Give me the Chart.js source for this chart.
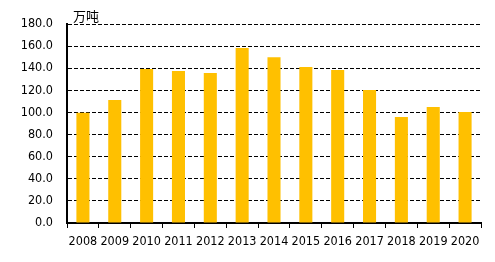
<!DOCTYPE html>
<html lang="zh">
<head>
    <meta charset="UTF-8">
    <title>万吨</title>
    <script src="https://cdn.jsdelivr.net/npm/chart.js"></script>
    <style>
        html, body { margin: 0; padding: 0; background: #fff; }
        #wrap { width: 495px; height: 262px; position: relative; }
    </style>
</head>
<body>
    <div id="wrap"><canvas id="chart"></canvas></div>

    <script>
        // data
        const years = ['2008', '2009', '2010', '2011', '2012', '2013', '2014',
                       '2015', '2016', '2017', '2018', '2019', '2020'];
        const output = [99.8, 111.2, 139.4, 137.4, 135.6, 158.2, 150.0,
                        141.0, 138.3, 120.3, 95.8, 104.9, 100.4];
        const unitLabel = '万吨';

        const tickFont = { family: '"DejaVu Sans Condensed", "DejaVu Sans"', size: 12.5 };

        // unit label above the y axis
        const unitPlugin = {
            id: 'unitLabel',
            afterDraw(chart) {
                const ctx = chart.ctx;
                const area = chart.chartArea;
                ctx.save();
                ctx.fillStyle = '#000';
                ctx.font = '13px "Noto Sans CJK SC"';
                ctx.textBaseline = 'alphabetic';
                ctx.fillText(unitLabel, area.left + 6, area.top - 3);
                ctx.restore();
            }
        };

        new Chart(document.getElementById('chart'), {
            type: 'bar',
            data: {
                labels: years,
                datasets: [{
                    data: output,
                    backgroundColor: '#FFC000',
                    categoryPercentage: 1,
                    barPercentage: 0.41
                }]
            },
            options: {
                responsive: true,
                maintainAspectRatio: false,
                animation: false,
                layout: { padding: { top: 24, right: 14, left: 0, bottom: 0 } },
                plugins: { legend: { display: false }, tooltip: { enabled: false } },
                scales: {
                    x: {
                        grid: { drawOnChartArea: false, offset: true, tickLength: 5, color: '#000' },
                        border: { color: '#000', width: 2 },
                        ticks: { color: '#000', font: tickFont, padding: 6, maxRotation: 0, autoSkip: false },
                        afterFit(scale) { scale.height = 39; }
                    },
                    y: {
                        min: 0,
                        max: 180,
                        grid: { color: '#000', drawTicks: false },
                        border: { color: '#000', width: 2, dash: [4, 2] },
                        ticks: {
                            stepSize: 20,
                            color: '#000',
                            font: tickFont,
                            padding: 14,
                            callback: v => v.toFixed(1)
                        },
                        afterFit(scale) { scale.width = 67; }
                    }
                }
            },
            plugins: [unitPlugin]
        });
    </script>
</body>
</html>
